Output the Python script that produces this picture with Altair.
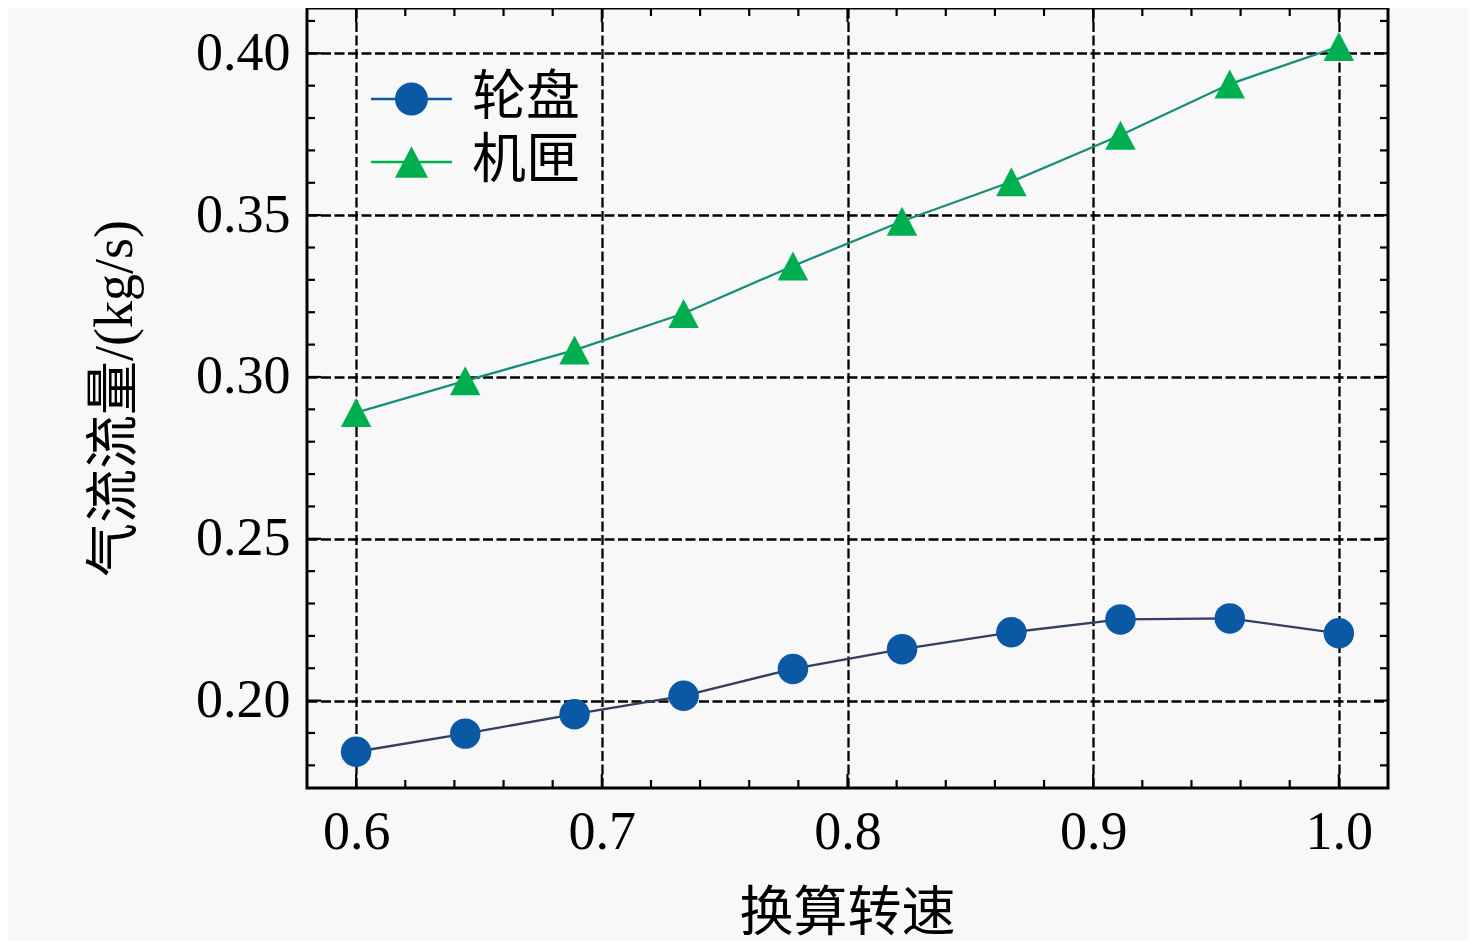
import altair as alt
import pandas as pd

# ---- data ----
speed = [0.6, 0.6444, 0.6889, 0.7333, 0.7778, 0.8222, 0.8667, 0.9111, 0.9556, 1.0]
disk = [0.1842, 0.1898, 0.1958, 0.2015, 0.2098, 0.2159, 0.2211, 0.2251, 0.2254, 0.2208]
casing = [0.2890, 0.2988, 0.3083, 0.3196, 0.3343, 0.3481, 0.3603, 0.3747, 0.3905, 0.4021]
series_names = ["轮盘", "机匣"]

x_major = [0.6, 0.7, 0.8, 0.9, 1.0]
y_major = [0.20, 0.25, 0.30, 0.35, 0.40]
x_minor = [0.62, 0.64, 0.66, 0.68, 0.72, 0.74, 0.76, 0.78,
           0.82, 0.84, 0.86, 0.88, 0.92, 0.94, 0.96, 0.98]
y_minor = [0.18, 0.19, 0.21, 0.22, 0.23, 0.24, 0.26, 0.27, 0.28, 0.29,
           0.31, 0.32, 0.33, 0.34, 0.36, 0.37, 0.38, 0.39, 0.41]

W, H = 1081, 780
BG = "#f8f8f8"
SERIF = "Liberation Serif"
MIXED = "Liberation Serif, Noto Sans CJK SC"

rows = []
for name, vals in zip(series_names, [disk, casing]):
    for s, v in zip(speed, vals):
        rows.append({"speed": s, "flow": v, "series": name})
df = pd.DataFrame(rows)

xscale = alt.Scale(domain=[0.58, 1.02], zero=False, nice=False)
yscale = alt.Scale(domain=[0.173, 0.414], zero=False, nice=False)

GRID_W = 2.3
GRID_DASH = [10, 3.5]

x_axis = alt.Axis(values=x_major, format=".1f", grid=True, gridDash=GRID_DASH,
                  gridColor="black", gridWidth=GRID_W, ticks=False, domain=False,
                  labelFontSize=54, labelFont=SERIF, labelColor="black",
                  labelPadding=17, labelFlush=False, labelOverlap=False,
                  title="换算转速", titleFontSize=54, titleFont=MIXED,
                  titleFontWeight="normal", titleColor="black",
                  titleX=540, titleY=126, titleBaseline="middle", titleAlign="center")
y_axis = alt.Axis(values=y_major, format=".2f", grid=True, gridDash=GRID_DASH,
                  gridColor="black", gridWidth=GRID_W, ticks=False, domain=False,
                  labelFontSize=54, labelFont=SERIF, labelColor="black",
                  labelPadding=17, labelFlush=False, labelOverlap=False,
                  title="气流流量/(kg/s)", titleFontSize=54, titleFont=MIXED,
                  titleFontWeight="normal", titleColor="black", titleAngle=270,
                  titleX=-192, titleY=H / 2, titleBaseline="middle", titleAlign="center")

X = alt.X("speed:Q", scale=xscale, axis=x_axis)
Y = alt.Y("flow:Q", scale=yscale, axis=y_axis)

def xticks(values, length):
    d = pd.DataFrame({"speed": values})
    bottom = alt.Chart(d).mark_rule(color="black", strokeWidth=2.2).encode(
        x=alt.X("speed:Q", scale=xscale), y=alt.value(H), y2=alt.value(H - length))
    top = alt.Chart(d).mark_rule(color="black", strokeWidth=2.2).encode(
        x=alt.X("speed:Q", scale=xscale), y=alt.value(0), y2=alt.value(length))
    return [bottom, top]

def yticks(values, length):
    d = pd.DataFrame({"flow": values})
    left = alt.Chart(d).mark_rule(color="black", strokeWidth=2.2).encode(
        y=alt.Y("flow:Q", scale=yscale), x=alt.value(0), x2=alt.value(length))
    right = alt.Chart(d).mark_rule(color="black", strokeWidth=2.2).encode(
        y=alt.Y("flow:Q", scale=yscale), x=alt.value(W), x2=alt.value(W - length))
    return [left, right]

tick_layers = xticks(x_minor, 8) + xticks(x_major, 14) + yticks(y_minor, 8) + yticks(y_major, 14)

base = alt.Chart(df)

lines = base.mark_line(strokeWidth=2.3).encode(
    x=X, y=Y,
    color=alt.Color("series:N", scale=alt.Scale(domain=series_names, range=["#343d62", "#14907a"]),
                    legend=None),
    detail="series:N",
)

circle_path = "circle"
tri_path = "M0,-0.95L1,0.95L-1,0.95Z"

points = base.mark_point(filled=True, size=930, opacity=1, strokeWidth=0).encode(
    x=X, y=Y,
    color=alt.Color("series:N", scale=alt.Scale(domain=series_names, range=["#0b59a5", "#00b050"]),
                    legend=None),
    shape=alt.Shape("series:N", scale=alt.Scale(domain=series_names, range=[circle_path, tri_path]),
                    legend=None),
)

# legend-only layer (points placed outside the x domain and clipped away)
leg_df = pd.DataFrame({"speed": [0.5, 0.5], "flow": [0.3, 0.3], "series": series_names})
leg_circle = "M-1,0A1,1 0 1,1 1,0A1,1 0 1,1 -1,0Z M-2.45,-0.07H2.45V0.07H-2.45Z"
leg_tri = "M0,-0.95L1,0.95L-1,0.95Z M-2.45,-0.07H2.45V0.07H-2.45Z"
leg_opts = dict(orient="none", legendX=77.5, legendY=64, title=None,
                labelFontSize=54, labelFont=MIXED, labelColor="black",
                symbolSize=1089, symbolStrokeWidth=0, symbolOpacity=1,
                labelOffset=33.5, rowPadding=9, padding=0)
legend_layer = alt.Chart(leg_df).mark_point(filled=True, clip=True, opacity=1, strokeWidth=0).encode(
    x=alt.X("speed:Q", scale=xscale),
    y=alt.Y("flow:Q", scale=yscale),
    color=alt.Color("series:N", scale=alt.Scale(domain=series_names, range=["#0b59a5", "#00b050"]),
                    legend=alt.Legend(**leg_opts)),
    shape=alt.Shape("series:N", scale=alt.Scale(domain=series_names, range=[leg_circle, leg_tri]),
                    legend=alt.Legend(**leg_opts)),
)

chart = alt.layer(*tick_layers, lines, points, legend_layer).resolve_scale(
    color="independent", shape="independent"
).properties(
    width=W, height=H,
    padding={"left": 299, "top": 0, "right": 80, "bottom": 153},
    autosize=alt.AutoSizeParams(type="none"),
    background=BG,
).configure_view(stroke="black", strokeWidth=3, fill=BG)

chart.save("out.html", embed_options={"renderer": "svg", "actions": False})
